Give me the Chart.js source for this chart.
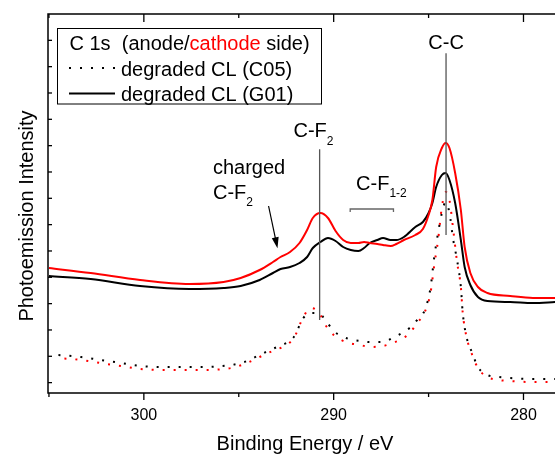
<!DOCTYPE html>
<html>
<head>
<meta charset="utf-8">
<script src="https://cdn.jsdelivr.net/npm/chart.js@4.4.0/dist/chart.umd.min.js"></script>
<style>
  html, body { margin: 0; padding: 0; background: #fff; }
  #wrap { width: 555px; height: 456px; }
</style>
</head>
<body>
<div id="wrap"><canvas id="xps" width="555" height="456"></canvas></div>
<script>
// C 1s spectra, binding energy in eV, intensity in arbitrary units
const energyG01 = [305.0, 302.8, 300.2, 297.6, 295.8, 294.9, 293.9, 293.2, 292.8, 292.3, 291.8, 291.4, 291.1, 290.7,
  290.3, 289.9, 289.5, 289.1, 288.7, 288.4, 288.1, 287.7, 287.4, 287.0, 286.7, 286.3, 285.7, 285.3, 285.0, 284.8,
  284.6, 284.3, 284.1, 283.9, 283.6, 283.3, 283.1, 282.8, 282.4, 281.9, 280.7, 279.5, 278.3];
const cathodeG01 = [125, 120, 113, 109, 111, 115, 123, 131, 136, 141, 150, 163, 175, 180,
  175, 162, 153, 150, 150, 151, 150, 149, 148, 147, 149, 153, 158, 164, 178, 193,
  226, 245, 250, 245, 220, 183, 146, 120, 106, 100, 97, 95, 95];
const anodeG01 = [117, 114, 107, 104, 105, 107, 113, 120, 124, 126, 130, 136, 145, 151,
  155, 152, 146, 143, 142, 145, 150, 153, 155, 153, 153, 156, 166, 171, 180, 190,
  206, 218, 220, 213, 190, 153, 126, 108, 96, 92, 91, 90, 91];

const energyC05 = [304.5, 303.3, 302.3, 301.2, 300.2, 298.6, 297.0, 295.4, 294.7, 293.9, 293.1, 292.7, 292.1, 291.6,
  291.2, 290.8, 290.4, 290.0, 289.6, 289.2, 288.6, 288.1, 287.4, 286.9, 286.4, 286.0, 285.6, 285.2, 284.9, 284.7,
  284.5, 284.3, 284.1, 283.9, 283.7, 283.5, 283.3, 283.2, 283.0, 282.7, 282.4, 281.9, 281.3, 280.7, 279.6, 278.3];
const cathodeC05 = [35, 33, 30, 27, 24, 23, 23, 25, 29, 36, 43, 46, 55, 76,
  85, 81, 67, 58, 53, 50, 48, 46, 47, 50, 54, 60, 70, 81, 100, 128,
  153, 186, 201, 193, 163, 131, 106, 80, 56, 38, 25, 16, 13, 12, 11, 11];
const anodeC05 = [38, 36, 33, 30, 27, 26, 26, 28, 31, 38, 45, 48, 56, 75,
  80, 80, 72, 62, 57, 54, 52, 51, 51, 55, 60, 65, 73, 83, 105, 136,
  160, 180, 191, 180, 153, 133, 106, 80, 56, 40, 26, 18, 16, 15, 14, 14];

const xTicks = [305, 300, 295, 290, 285, 280];
const xLabels = [300, 290, 280];
const yTickStep = 26.33;

const FONT = '"Liberation Sans", Arial, Helvetica, sans-serif';
const RED = '#ff0000';
const DOTS = [2, 9];

function points(xs, ys) {
  return xs.map((e, i) => ({ x: e, y: ys[i] }));
}

// pisze tekst z fragmentami (indeksy dolne, kolory)
function drawParts(ctx, x, y, parts) {
  parts.forEach(p => {
    ctx.font = (p.size || 20) + 'px ' + FONT;
    ctx.fillStyle = p.color || '#000';
    ctx.fillText(p.t, x, y + (p.dy || 0));
    x += ctx.measureText(p.t).width;
  });
  return x;
}

const axesPlugin = {
  id: 'axesFrame',
  afterDraw(chart) {
    const { ctx, chartArea: a, scales: { x, y } } = chart;
    ctx.save();
    ctx.strokeStyle = '#000';
    ctx.lineWidth = 1.5;
    ctx.beginPath();
    ctx.moveTo(a.left, a.top); ctx.lineTo(a.right + 2, a.top);
    ctx.moveTo(a.left, a.top - 0.7); ctx.lineTo(a.left, a.bottom + 0.7);
    ctx.moveTo(a.left, a.bottom); ctx.lineTo(a.right + 2, a.bottom);
    ctx.stroke();

    ctx.lineWidth = 1.3;
    xTicks.forEach(v => {
      const px = x.getPixelForValue(v);
      const major = xLabels.includes(v);
      ctx.beginPath();
      ctx.moveTo(px, a.bottom); ctx.lineTo(px, a.bottom + (major ? 7 : 4));
      ctx.moveTo(px, a.top); ctx.lineTo(px, a.top + (major ? 8 : 4));
      ctx.stroke();
    });
    for (let v = y.max - yTickStep; v > y.min; v -= yTickStep) {
      const py = y.getPixelForValue(v);
      ctx.beginPath();
      ctx.moveTo(a.left, py); ctx.lineTo(a.left + 4, py);
      ctx.stroke();
    }

    ctx.fillStyle = '#000';
    ctx.font = '16px ' + FONT;
    ctx.textAlign = 'center';
    ctx.textBaseline = 'alphabetic';
    xLabels.forEach(v => ctx.fillText(String(v), x.getPixelForValue(v), a.bottom + 26.5));

    ctx.font = '20px ' + FONT;
    ctx.fillText('Binding Energy / eV', 305, a.bottom + 57);

    ctx.save();
    ctx.translate(33, 216);
    ctx.rotate(-Math.PI / 2);
    ctx.fillText('Photoemission Intensity', 0, 0);
    ctx.restore();
    ctx.restore();
  }
};

const notesPlugin = {
  id: 'notes',
  afterDatasetsDraw(chart) {
    const { ctx, chartArea: a, scales: { x, y } } = chart;
    const X = v => x.getPixelForValue(v);
    const Y = v => y.getPixelForValue(v);
    ctx.save();
    ctx.textAlign = 'left';
    ctx.textBaseline = 'alphabetic';

    // linie pikow
    ctx.strokeStyle = '#555';
    ctx.lineWidth = 1.3;
    ctx.beginPath();
    ctx.moveTo(X(284.08), Y(339.7)); ctx.lineTo(X(284.08), Y(158));
    ctx.moveTo(X(290.74), Y(243.7)); ctx.lineTo(X(290.74), Y(73));
    ctx.stroke();

    // klamra C-F1-2
    ctx.strokeStyle = '#666';
    ctx.beginPath();
    ctx.moveTo(X(289.13), Y(184) + 3); ctx.lineTo(X(289.13), Y(184));
    ctx.lineTo(X(286.85), Y(184)); ctx.lineTo(X(286.85), Y(184) + 3);
    ctx.stroke();

    ctx.font = '20px ' + FONT;
    ctx.fillStyle = '#000';
    ctx.textAlign = 'center';
    ctx.fillText('C-C', X(284.08), Y(343.7));
    ctx.textAlign = 'left';

    drawParts(ctx, X(292.12), Y(255.7), [{ t: 'C-F' }, { t: '2', size: 12, dy: 7.5 }]);
    drawParts(ctx, X(288.82), Y(203), [{ t: 'C-F' }, { t: '1-2', size: 12, dy: 7 }]);
    drawParts(ctx, X(296.36), Y(218.7), [{ t: 'charged' }]);
    drawParts(ctx, X(296.36), Y(194.5), [{ t: 'C-F' }, { t: '2', size: 12, dy: 7 }]);

    // strzalka
    const x0 = X(293.43), y0 = Y(187), x1 = X(292.96), y1 = Y(144.7);
    const ang = Math.atan2(y1 - y0, x1 - x0);
    ctx.strokeStyle = '#000';
    ctx.lineWidth = 1.2;
    ctx.beginPath();
    ctx.moveTo(x0, y0);
    ctx.lineTo(x1 - 8 * Math.cos(ang), y1 - 8 * Math.sin(ang));
    ctx.stroke();
    ctx.fillStyle = '#000';
    ctx.beginPath();
    ctx.moveTo(x1, y1);
    ctx.lineTo(x1 - 11 * Math.cos(ang) + 3.5 * Math.sin(ang), y1 - 11 * Math.sin(ang) - 3.5 * Math.cos(ang));
    ctx.lineTo(x1 - 11 * Math.cos(ang) - 3.5 * Math.sin(ang), y1 - 11 * Math.sin(ang) + 3.5 * Math.cos(ang));
    ctx.closePath();
    ctx.fill();

    // legenda
    const bx = a.left + 9, by = a.top + 14.5;
    ctx.strokeStyle = '#000';
    ctx.lineWidth = 1;
    ctx.strokeRect(bx + 0.5, by, 264, 75.5);
    drawParts(ctx, bx + 12.5, by + 21.5, [
      { t: 'C 1s  (anode/' }, { t: 'cathode', color: RED }, { t: ' side)' }
    ]);

    ctx.strokeStyle = '#000';
    ctx.lineWidth = 2;
    ctx.setLineDash(DOTS);
    ctx.beginPath();
    ctx.moveTo(bx + 12, by + 39.5); ctx.lineTo(bx + 60, by + 39.5);
    ctx.stroke();
    ctx.setLineDash([]);
    ctx.beginPath();
    ctx.moveTo(bx + 12, by + 65); ctx.lineTo(bx + 58, by + 65);
    ctx.stroke();

    drawParts(ctx, bx + 64, by + 47.5, [{ t: 'degraded CL (C05)' }]);
    drawParts(ctx, bx + 64, by + 72.3, [{ t: 'degraded CL (G01)' }]);
    ctx.restore();
  }
};

const chart = new Chart(document.getElementById('xps'), {
  type: 'line',
  data: {
    datasets: [
      { label: 'cathode G01', data: points(energyG01, cathodeG01), borderColor: RED, borderWidth: 2 },
      { label: 'anode G01', data: points(energyG01, anodeG01), borderColor: '#000', borderWidth: 2 },
      { label: 'cathode C05', data: points(energyC05, cathodeC05), borderColor: RED, borderWidth: 2,
        borderDash: DOTS, borderDashOffset: 5 },
      { label: 'anode C05', data: points(energyC05, anodeC05), borderColor: '#000', borderWidth: 2,
        borderDash: DOTS }
    ]
  },
  options: {
    responsive: false,
    animation: false,
    devicePixelRatio: 1,
    layout: { padding: { left: 48, top: 14, right: 0, bottom: 63 } },
    elements: {
      point: { radius: 0 },
      line: { cubicInterpolationMode: 'monotone', fill: false, borderCapStyle: 'butt' }
    },
    plugins: { legend: { display: false }, tooltip: { enabled: false } },
    scales: {
      x: { type: 'linear', reverse: true, min: 278.34, max: 305.05, display: false },
      y: { type: 'linear', min: 0, max: 379, display: false }
    }
  },
  plugins: [axesPlugin, notesPlugin]
});
</script>
</body>
</html>
